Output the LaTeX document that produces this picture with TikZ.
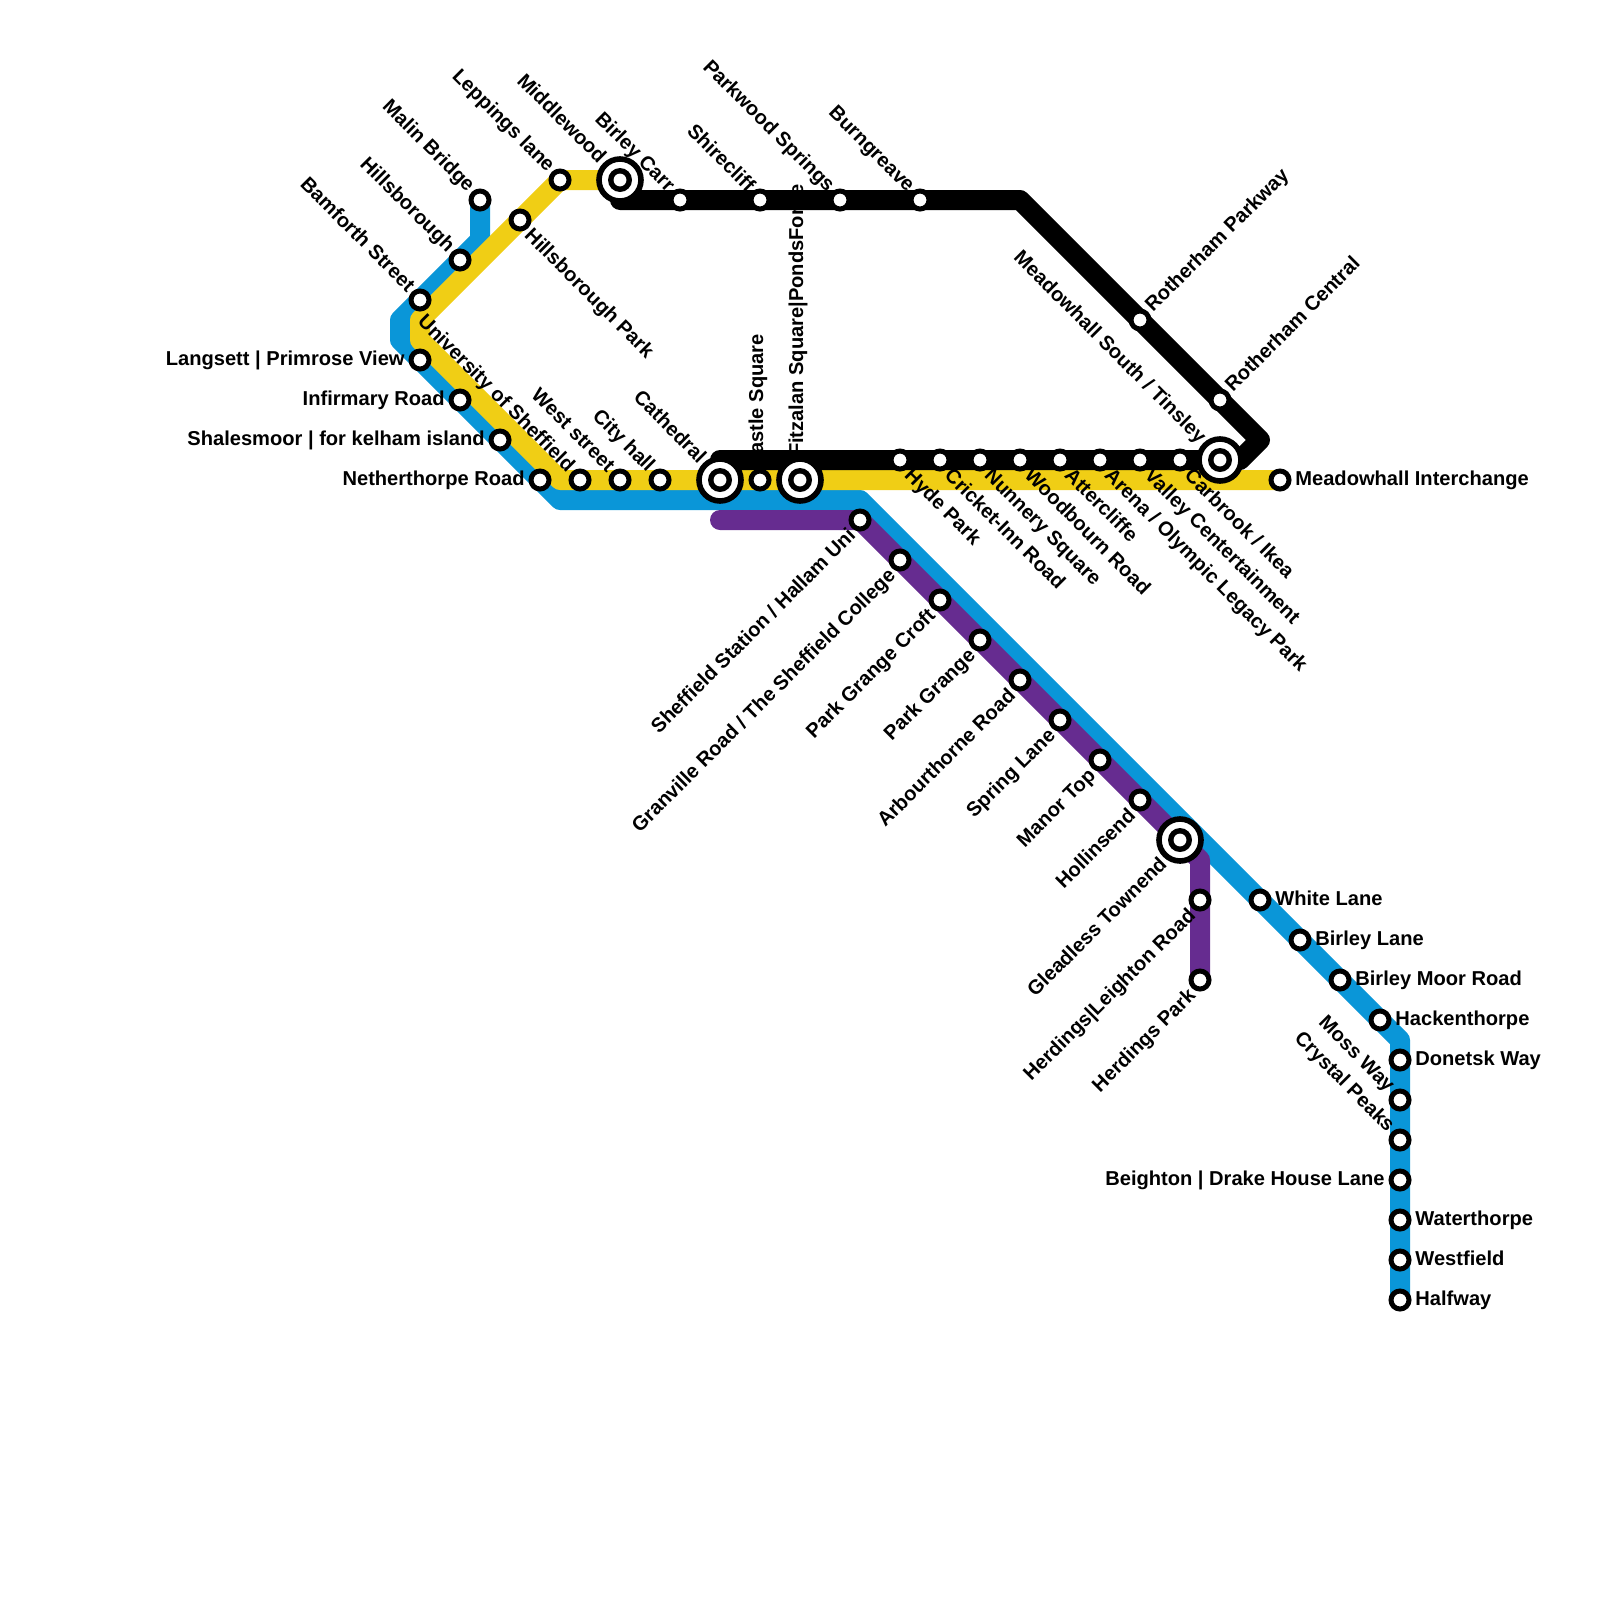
\documentclass[tikz,border=0pt]{standalone}
\usepackage{fontspec}
\setmainfont{Liberation Sans}
\usetikzlibrary{backgrounds}

\definecolor{lineblue}{HTML}{0A96D8}
\definecolor{lineyellow}{HTML}{F0CE15}
\definecolor{linepurple}{HTML}{662C90}

\begin{document}
\begin{tikzpicture}[
  label distance=0.09cm,
  route/.style={line width=0.5cm, line join=round, line cap=round},
  stn/.style={circle, draw=black, fill=white, line width=0.125cm, minimum size=0.45cm, inner sep=0pt},
  hub/.style={circle, draw=black, fill=white, line width=0.14cm, minimum size=1.05cm, inner sep=0pt,
    path picture={\fill[black] (path picture bounding box.center) circle (0.3cm);
      \fill[white] (path picture bounding box.center) circle (0.16cm);}},
  tag/.style={font=\bfseries\fontsize{14.3pt}{16pt}\selectfont, inner sep=0pt, text height=0.36cm, text depth=0.02cm},
  every label/.style={tag},
  tagnw/.style={label={[rotate=-45, anchor=east]135:#1}},
  tagse/.style={label={[rotate=-45, anchor=west]-45:#1}},
  tagne/.style={label={[rotate=45, anchor=west]45:#1}},
  tagsw/.style={label={[rotate=45, anchor=east]-135:#1}},
  tagup/.style={label={[rotate=90, anchor=west]90:#1}},
  taglft/.style={label={[anchor=east, text depth=0.1cm]180:#1}},
  tagrgt/.style={label={[anchor=west, text depth=0.1cm]0:#1}}
]
  \useasboundingbox (0,0) rectangle (40,-40);

  % west side
  \node[stn, tagnw=Malin Bridge] (malin) at (12,-5) {};
  \node[stn, tagnw=Hillsborough] (hillsb) at (11.5,-6.5) {};
  \node[stn, tagnw=Bamforth Street] (bamforth) at (10.5,-7.5) {};
  \node[stn, taglft={Langsett | Primrose View}] (langsett) at (10.5,-9) {};
  \node[stn, taglft=Infirmary Road] (infirmary) at (11.5,-10) {};
  \node[stn, taglft={Shalesmoor | for kelham island}] (shalesmoor) at (12.5,-11) {};
  \node[stn, taglft=Netherthorpe Road] (nether) at (13.5,-12) {};
  \node[stn, tagnw=University of Sheffield] (univ) at (14.5,-12) {};
  \node[stn, tagnw=West street] (west) at (15.5,-12) {};
  \node[stn, tagnw=City hall] (city) at (16.5,-12) {};
  \node[stn, tagnw=Leppings lane] (leppings) at (14,-4.5) {};
  \node[stn, tagse=Hillsborough Park] (hillsbpark) at (13,-5.5) {};

  % black line
  \node[stn, tagnw=Birley Carr] (birleycarr) at (17,-5) {};
  \node[stn, tagnw=Shirecliff] (shire) at (19,-5) {};
  \node[stn, tagnw=Parkwood Springs] (parkwood) at (21,-5) {};
  \node[stn, tagnw=Burngreave] (burn) at (23,-5) {};
  \node[stn, tagne=Rotherham Parkway] (rparkway) at (28.5,-8) {};
  \node[stn, tagne=Rotherham Central] (rcentral) at (30.5,-10) {};
  \node[stn, tagse=Hyde Park] (hyde) at (22.5,-11.5) {};
  \node[stn, tagse=Cricket-Inn Road] (cricket) at (23.5,-11.5) {};
  \node[stn, tagse=Nunnery Square] (nunnery) at (24.5,-11.5) {};
  \node[stn, tagse=Woodbourn Road] (woodbourn) at (25.5,-11.5) {};
  \node[stn, tagse=Attercliffe] (atter) at (26.5,-11.5) {};
  \node[stn, tagse={Arena / Olympic Legacy Park}] (arena) at (27.5,-11.5) {};
  \node[stn, tagse=Valley Centertainment] (valley) at (28.5,-11.5) {};
  \node[stn, tagse={Carbrook / Ikea}] (carbrook) at (29.5,-11.5) {};

  % centre
  \node[stn, tagup=Castle Square] (castle) at (19,-12) {};
  \node[stn, tagrgt=Meadowhall Interchange] (meadow) at (32,-12) {};

  % purple line
  \node[stn, tagsw={Sheffield Station / Hallam Uni}] (sheffield) at (21.5,-13) {};
  \node[stn, tagsw={Granville Road / The Sheffield College}] (granville) at (22.5,-14) {};
  \node[stn, tagsw=Park Grange Croft] (pgcroft) at (23.5,-15) {};
  \node[stn, tagsw=Park Grange] (pgrange) at (24.5,-16) {};
  \node[stn, tagsw=Arbourthorne Road] (arbour) at (25.5,-17) {};
  \node[stn, tagsw=Spring Lane] (spring) at (26.5,-18) {};
  \node[stn, tagsw=Manor Top] (manor) at (27.5,-19) {};
  \node[stn, tagsw=Hollinsend] (hollin) at (28.5,-20) {};
  \node[stn, tagsw={Herdings|Leighton Road}] (leighton) at (30,-22.5) {};
  \node[stn, tagsw=Herdings Park] (herdings) at (30,-24.5) {};

  % south east
  \node[stn, tagrgt=White Lane] (white) at (31.5,-22.5) {};
  \node[stn, tagrgt=Birley Lane] (birleylane) at (32.5,-23.5) {};
  \node[stn, tagrgt=Birley Moor Road] (birleymoor) at (33.5,-24.5) {};
  \node[stn, tagrgt=Hackenthorpe] (hacken) at (34.5,-25.5) {};
  \node[stn, tagrgt=Donetsk Way] (donetsk) at (35,-26.5) {};
  \node[stn, tagnw=Moss Way] (moss) at (35,-27.5) {};
  \node[stn, tagnw=Crystal Peaks] (crystal) at (35,-28.5) {};
  \node[stn, taglft={Beighton | Drake House Lane}] (beighton) at (35,-29.5) {};
  \node[stn, tagrgt=Waterthorpe] (water) at (35,-30.5) {};
  \node[stn, tagrgt=Westfield] (westfield) at (35,-31.5) {};
  \node[stn, tagrgt=Halfway] (halfway) at (35,-32.5) {};

  % interchanges
  \node[hub, tagnw=Cathedral] (cathedral) at (18,-12) {};
  \node[hub, label distance=0.2cm, tagup={Fitzalan Square|PondsForge}] (fitzalan) at (20,-12) {};
  \node[hub, tagnw=Middlewood] (middlewood) at (15.5,-4.5) {};
  \node[hub, tagnw={Meadowhall South / Tinsley}] (tinsley) at (30.5,-11.5) {};
  \node[hub, tagsw=Gleadless Townend] (gleadless) at (29.5,-21) {};

  \coordinate (blueA) at (12,-6);
  \coordinate (blueB) at (10,-8);
  \coordinate (blueC) at (10,-8.5);
  \coordinate (blueD) at (14,-12.5);
  \coordinate (blueE) at (21.5,-12.5);
  \coordinate (blueF) at (35,-26);
  \coordinate (yellowA) at (14,-12);
  \coordinate (yellowB) at (10.5,-8.5);
  \coordinate (yellowC) at (10.5,-8);
  \coordinate (blackA) at (15.5,-5);
  \coordinate (blackB) at (25.5,-5);
  \coordinate (blackC) at (31.5,-11);
  \coordinate (blackD) at (31,-11.5);
  \coordinate (blackE) at (18,-11.5);
  \coordinate (purpleA) at (18,-13);
  \coordinate (purpleB) at (30,-21.5);

  \begin{scope}[on background layer]
    \draw[route, lineblue] (malin.center) -- (blueA) -- (blueB) -- (blueC) -- (blueD) -- (blueE) -- (blueF) -- (halfway.center);
    \draw[route, linepurple] (purpleA) -- (sheffield.center) -- (gleadless.center) -- (purpleB) -- (herdings.center);
    \draw[route, lineyellow] (meadow.center) -- (yellowA) -- (yellowB) -- (yellowC) -- (leppings.center) -- (middlewood.center);
    \draw[route, black] (blackA) -- (blackB) -- (blackC) -- (blackD) -- (blackE);
  \end{scope}
\end{tikzpicture}
\end{document}
